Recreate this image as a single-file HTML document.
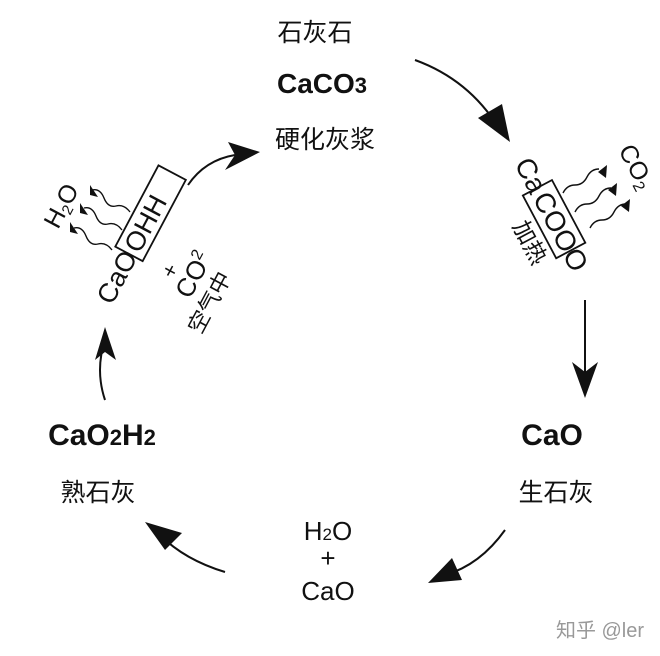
<!DOCTYPE html>
<html><head><meta charset="utf-8"><style>
html,body{margin:0;padding:0;background:#fff;}
svg{display:block;font-family:"Liberation Sans","Noto Sans CJK SC",sans-serif;}
</style></head><body>
<svg width="660" height="656" viewBox="0 0 660 656">
<g fill="#111" stroke="none">
<text x="315" y="41" font-size="25" text-anchor="middle">石灰石</text>
<text x="322" y="93" font-size="28" font-weight="bold" text-anchor="middle">CaCO<tspan font-size="22">3</tspan></text>
<text x="325" y="148" font-size="25" text-anchor="middle">硬化灰浆</text>
<text x="552" y="445" font-size="30" font-weight="bold" text-anchor="middle">CaO</text>
<text x="556" y="501" font-size="25" text-anchor="middle">生石灰</text>
<text x="102" y="445" font-size="30" font-weight="bold" text-anchor="middle">CaO<tspan font-size="22">2</tspan>H<tspan font-size="22">2</tspan></text>
<text x="98" y="501" font-size="25" text-anchor="middle">熟石灰</text>
<text x="328" y="540" font-size="26" text-anchor="middle">H<tspan font-size="17">2</tspan>O</text>
<text x="328" y="567" font-size="26" text-anchor="middle">+</text>
<text x="328" y="600" font-size="26" text-anchor="middle">CaO</text>
<text x="600" y="637" font-size="20" fill="#999" text-anchor="middle">知乎 @ler</text>
</g>
<g fill="none" stroke="#111" stroke-width="2">
<path d="M415 60 Q470 80 500 130"/>
<path d="M585 300 L585 375"/>
<path d="M505 530 Q480 565 445 575"/>
<path d="M225 572 Q185 560 160 535"/>
<path d="M105 400 Q95 370 105 340"/>
<path d="M188 185 Q205 160 235 155"/>
</g>
<g fill="#111">
<polygon points="510,142 478,118 502,104"/>
<polygon points="585,398 572,362 585,372 598,362"/>
<polygon points="428,583 452,558 462,580"/>
<polygon points="145,522 182,533 165,550"/>
<polygon points="105,327 95,360 105,352 116,360"/>
<polygon points="260,152 228,142 235,155 225,170"/>
</g>
<!-- left group -->
<g transform="translate(112,306) rotate(-62)" fill="#111">
<text x="0" y="0" font-size="27">CaO<tspan dx="3">OHH</tspan></text>
<rect x="54" y="-25" width="92" height="31" fill="none" stroke="#111" stroke-width="1.8"/>
</g>
<g transform="translate(180,272) rotate(-62)" fill="#111">
<text x="-10" y="-2" font-size="22">+</text>
<text x="-20" y="22" font-size="26">CO<tspan font-size="16" dy="-10">2</tspan></text>
<text x="-46" y="48" font-size="22">空气中</text>
</g>
<g transform="translate(58,230) rotate(-62)" fill="#111">
<text x="0" y="0" font-size="25">H<tspan font-size="15" dy="4">2</tspan><tspan dy="-4">O</tspan></text>
</g>
<g fill="none" stroke="#111" stroke-width="1.4">
<path d="M112 250 q-6 -8 -14 -6 q-8 2 -12 -8 q-4 -10 -12 -8"/>
<path d="M122 230 q-6 -8 -14 -6 q-8 2 -12 -8 q-4 -10 -12 -8"/>
<path d="M130 212 q-6 -8 -14 -6 q-8 2 -12 -8 q-4 -10 -12 -8"/>
</g>
<g fill="#111">
<polygon points="70,222 78,234 70,232"/>
<polygon points="80,203 88,215 80,213"/>
<polygon points="90,185 98,197 90,195"/>
</g>
<!-- right group -->
<g transform="translate(514,164) rotate(62)" fill="#111">
<text x="0" y="0" font-size="28">Ca<tspan dx="3">COOO</tspan></text>
<rect x="32" y="-26" width="71" height="33" fill="none" stroke="#111" stroke-width="1.8"/>
</g>
<g transform="translate(512,226) rotate(62)" fill="#111">
<text x="0" y="0" font-size="23">加热</text>
</g>
<g transform="translate(618,150) rotate(62)" fill="#111">
<text x="0" y="0" font-size="25">CO<tspan font-size="16" dy="4">2</tspan></text>
</g>
<g fill="none" stroke="#111" stroke-width="1.4">
<path d="M563 193 q4 -8 12 -8 q8 0 12 -8 q4 -8 12 -8"/>
<path d="M575 212 q4 -8 12 -8 q8 0 12 -8 q4 -8 12 -8"/>
<path d="M590 228 q4 -8 12 -8 q8 0 12 -8 q4 -8 12 -8"/>
</g>
<g fill="#111">
<polygon points="607,165 606,178 598,172"/>
<polygon points="617,183 616,196 608,190"/>
<polygon points="630,199 629,212 621,206"/>
</g>
</svg>
</body></html>
